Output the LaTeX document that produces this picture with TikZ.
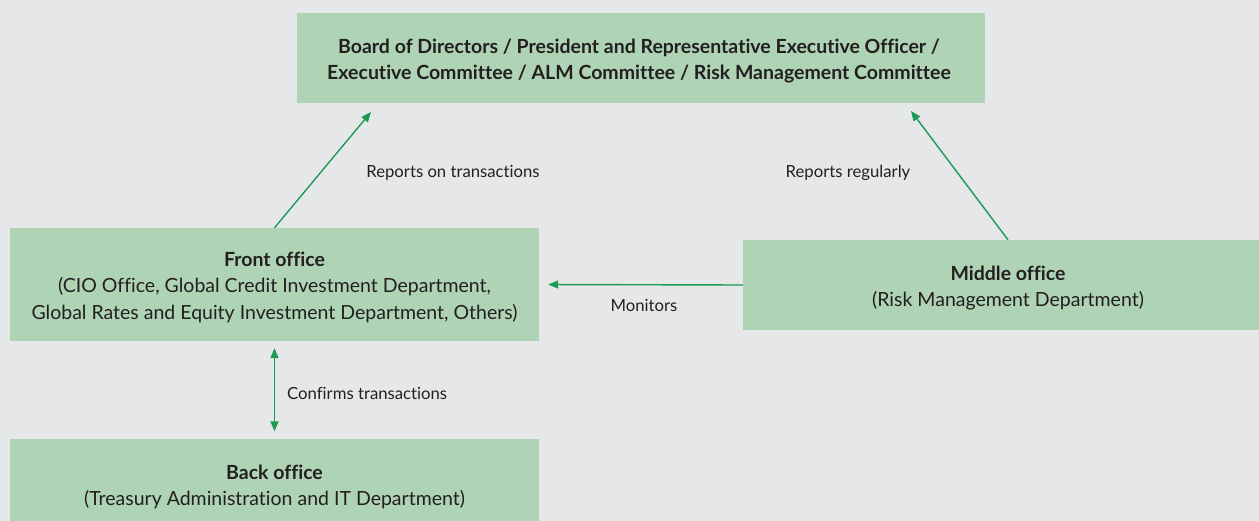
\documentclass[tikz,border=0pt]{standalone}
\usepackage{fontspec}
\setmainfont{Lato}[RawFeature=-liga]
\usetikzlibrary{arrows.meta}
\definecolor{bgc}{HTML}{E6E7E9}
\definecolor{boxc}{HTML}{AFD4B5}
\definecolor{arrc}{HTML}{1A9A52}
\definecolor{txtc}{HTML}{231F20}
\tikzset{
  box/.style={fill=boxc, draw=none, inner sep=0pt},
  boxtxt/.style={align=center, inner sep=0pt, text=txtc,
    font=\fontsize{19.5}{26.5}\selectfont},
  lbl/.style={text=txtc, inner sep=0pt, font=\fontsize{16.7}{20}\selectfont},
  conn/.style={draw=arrc, line width=1.4pt, -{Triangle[length=10pt,width=8pt]}},
  dconn/.style={draw=arrc, line width=1.4pt, {Triangle[length=10pt,width=8pt]}-{Triangle[length=10pt,width=8pt]}}
}
\begin{document}
\begin{tikzpicture}[x=1pt,y=-1pt]
\fill[bgc] (0,0) rectangle (1259,521);
\useasboundingbox (0,0) rectangle (1259,521);
\node[box, minimum width=688pt, minimum height=90pt] (board) at (641,58) {};
\node[boxtxt] (boardt) at (639,61)
  {\textbf{Board of Directors / President and Representative Executive Officer /}\\
   \textbf{Executive Committee / ALM Committee / Risk Management Committee}};
\node[box, minimum width=529pt, minimum height=113pt] (front) at (274.5,284.5) {};
\node[boxtxt] (frontt) at (274.5,287)
  {\textbf{Front office}\\(CIO Office, Global Credit Investment Department,\\Global Rates and Equity Investment Department, Others)};
\node[box, minimum width=530pt, minimum height=90pt] (middle) at (1008,285) {};
\node[boxtxt] (middlet) at (1008,288)
  {\textbf{Middle office}\\(Risk Management Department)};
\node[box, minimum width=529pt, minimum height=92pt] (back) at (274.5,485) {};
\node[boxtxt] (backt) at (274.5,487)
  {\textbf{Back office}\\(Treasury Administration and IT Department)};
\coordinate (tipA) at (371,112);
\coordinate (tipB) at (911,111);
\draw[conn] (front.north) -- (tipA);
\draw[conn] (middle.north) -- (tipB);
\draw[conn, shorten >=9pt] (middle.west) -- (front.east);
\draw[dconn, shorten >=7.5pt, shorten <=7pt] (front.south) -- (back.north);
\node[lbl] (l1) at (453,173) {Reports on transactions};
\node[lbl] (l2) at (848,173) {Reports regularly};
\node[lbl] (l3) at (644,305) {Monitors};
\node[lbl, anchor=west] (l4) at (287,393) {Confirms transactions};
\end{tikzpicture}
\end{document}
